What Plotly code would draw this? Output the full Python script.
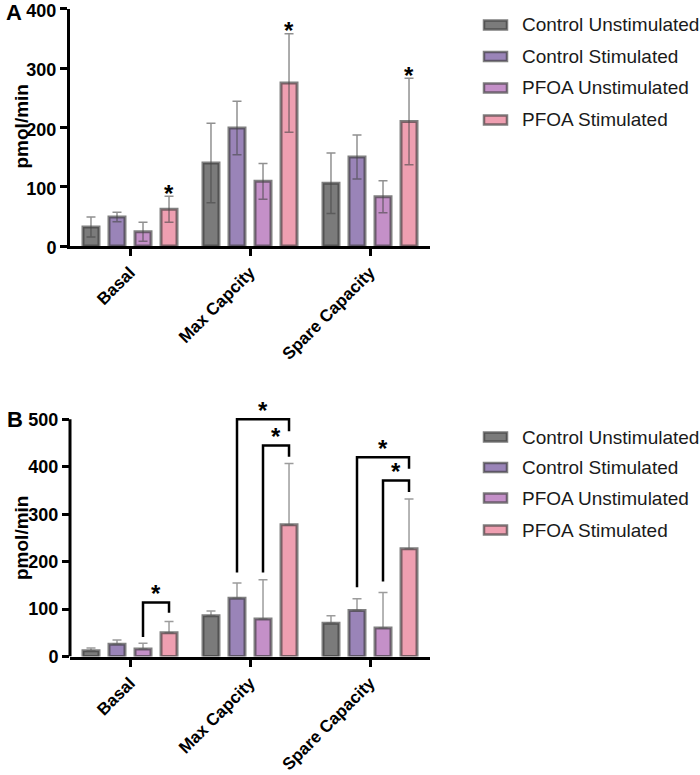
import plotly.graph_objects as go

categories = ["Basal", "Max Capcity", "Spare Capacity"]
series_names = ["Control Unstimulated", "Control Stimulated", "PFOA Unstimulated", "PFOA Stimulated"]
series_fill = ["#7b7b7b", "#9a84b8", "#c490c8", "#ef9fb1"]

# Panel A (mean, symmetric error)
ctrl_unstim_A = [32, 140, 106]
ctrl_unstim_A_err = [17, 67, 51]
ctrl_stim_A = [49, 199, 150]
ctrl_stim_A_err = [8, 45, 37]
pfoa_unstim_A = [24, 109, 83]
pfoa_unstim_A_err = [16, 30, 27]
pfoa_stim_A = [62, 275, 210]
pfoa_stim_A_err = [22, 83, 73]

# Panel B (mean, upper error only)
ctrl_unstim_B = [12, 86, 70]
ctrl_unstim_B_err = [6, 10, 16]
ctrl_stim_B = [26, 123, 97]
ctrl_stim_B_err = [9, 32, 25]
pfoa_unstim_B = [16, 79, 60]
pfoa_unstim_B_err = [12, 83, 75]
pfoa_stim_B = [50, 278, 227]
pfoa_stim_B_err = [24, 129, 105]

yticks_A = [0, 100, 200, 300, 400]
yticks_B = [0, 100, 200, 300, 400, 500]

# significance in A: stars above PFOA Stimulated in every category
stars_A = [(0, 3), (1, 3), (2, 3)]
# brackets in B: (category idx, left series, right series, top, left leg bottom, right leg bottom)
brackets_B = [
    (0, 2, 3, 114, 41, 92),
    (1, 1, 3, 500, 177, 475),
    (1, 2, 3, 445, 177, 421),
    (2, 1, 3, 420, 146, 396),
    (2, 2, 3, 371, 158, 347),
]

A_vals = [ctrl_unstim_A, ctrl_stim_A, pfoa_unstim_A, pfoa_stim_A]
A_errs = [ctrl_unstim_A_err, ctrl_stim_A_err, pfoa_unstim_A_err, pfoa_stim_A_err]
B_vals = [ctrl_unstim_B, ctrl_stim_B, pfoa_unstim_B, pfoa_stim_B]
B_errs = [ctrl_unstim_B_err, ctrl_stim_B_err, pfoa_unstim_B_err, pfoa_stim_B_err]

W, H = 700, 775
def px(x):
    return x / W
def py(y):
    return 1 - y / H

FONT = "Liberation Sans, Arial, sans-serif"
BARGAP = 0.133
BARGROUPGAP = 0.385
n_series = 4
slot = (1 - BARGAP) / n_series

def bar_x(cat, s):
    return cat + (s - (n_series - 1) / 2) * slot

border = "rgba(60,60,60,0.65)"

fig = go.Figure()
for i in range(n_series):
    fig.add_trace(go.Bar(
        x=categories, y=A_vals[i], name=series_names[i],
        marker=dict(color=series_fill[i], line=dict(color=border, width=3)),
        error_y=dict(type="data", array=A_errs[i], symmetric=True,
                     color="rgba(70,70,70,0.6)", thickness=1.5, width=4.5),
        xaxis="x", yaxis="y", showlegend=False,
    ))
for i in range(n_series):
    fig.add_trace(go.Bar(
        x=categories, y=B_vals[i], name=series_names[i],
        marker=dict(color=series_fill[i], line=dict(color=border, width=3)),
        error_y=dict(type="data", array=B_errs[i], arrayminus=[0] * len(categories),
                     symmetric=False, color="rgba(90,90,90,0.6)", thickness=1.5, width=4.5),
        xaxis="x2", yaxis="y2", showlegend=False,
    ))

xtick_font = dict(family=FONT, size=17, color="black", weight="bold")
ytick_font = dict(family=FONT, size=18, color="black", weight="bold")
xcommon = dict(showline=True, linewidth=3, linecolor="black", ticks="outside",
               ticklen=7, tickwidth=2.5, tickcolor="black", tickangle=-45,
               tickfont=xtick_font, showgrid=False, zeroline=False, automargin=False,
               ticklabeloverflow="allow", domain=[px(70), px(430)])
ycommon = dict(ticks="outside", ticklen=7, tickwidth=2.5, tickcolor="black",
               tickfont=ytick_font, showgrid=False, zeroline=False, automargin=False,
               ticklabeloverflow="allow")

fig.update_layout(
    width=W, height=H,
    margin=dict(l=0, r=0, t=0, b=0),
    paper_bgcolor="white", plot_bgcolor="white",
    barmode="group", bargap=BARGAP, bargroupgap=BARGROUPGAP,
    xaxis=dict(anchor="y", **xcommon),
    yaxis=dict(anchor="x", domain=[py(246), py(8.8)], range=[0, 400], tickvals=yticks_A,
               showline=True, linewidth=3, linecolor="black", ticklabelshift=2, **ycommon),
    xaxis2=dict(anchor="y2", **xcommon),
    yaxis2=dict(anchor="x2", domain=[py(656.5), py(400.4)], range=[0, 540], tickvals=yticks_B,
                showline=False, **ycommon),
    showlegend=False,
)

shapes = []
annotations = []

# B y-axis line drawn only up to the top tick
shapes.append(dict(type="line", xref="x2 domain", yref="y2", x0=0, x1=0,
                   y0=yticks_B[0], y1=yticks_B[-1], line=dict(color="black", width=3)))

star_font = dict(family=FONT, size=24, color="black", weight="bold")

# A stars
for cat, s in stars_A:
    annotations.append(dict(xref="x", yref="y", x=bar_x(cat, s), y=A_vals[s][cat] + A_errs[s][cat],
                            text="*", showarrow=False, font=star_font, yanchor="middle", yshift=3))

# B brackets
for cat, a, b, top, lbot, rbot in brackets_B:
    xa, xb = bar_x(cat, a), bar_x(cat, b)
    path = f"M {xa},{lbot} L {xa},{top} L {xb},{top} L {xb},{rbot}"
    shapes.append(dict(type="path", xref="x2", yref="y2", path=path,
                       line=dict(color="black", width=2.5)))
    annotations.append(dict(xref="x2", yref="y2", x=(xa + xb) / 2, y=top, text="*",
                            showarrow=False, font=star_font, yanchor="middle", yshift=9))

# y titles and panel letters
title_font = dict(family=FONT, size=19, color="black", weight="bold")
for yc in (126.5, 538):
    annotations.append(dict(xref="paper", yref="paper", x=px(21), y=py(yc), text="pmol/min",
                            textangle=-90, showarrow=False, font=title_font,
                            xanchor="center", yanchor="middle"))
letter_font = dict(family=FONT, size=22, color="black", weight="bold")
annotations.append(dict(xref="paper", yref="paper", x=px(14), y=py(13), text="A",
                        showarrow=False, font=letter_font, xanchor="center", yanchor="middle"))
annotations.append(dict(xref="paper", yref="paper", x=px(15), y=py(419), text="B",
                        showarrow=False, font=letter_font, xanchor="center", yanchor="middle"))

# custom legends
legend_font = dict(family=FONT, size=19, color="#1a1a1a")
for rows in ([25, 56.5, 88, 120], [437, 467.5, 498, 530]):
    for i, yc in enumerate(rows):
        shapes.append(dict(type="rect", xref="paper", yref="paper",
                           x0=px(484), x1=px(507), y0=py(yc - 4.5), y1=py(yc + 4.5),
                           fillcolor=series_fill[i], line=dict(color=border, width=2.5)))
        annotations.append(dict(xref="paper", yref="paper", x=px(520), y=py(yc),
                                text=series_names[i], showarrow=False, font=legend_font,
                                xanchor="left", yanchor="middle"))

fig.update_layout(shapes=shapes, annotations=annotations)
fig.write_html("out.html", config={"displayModeBar": False},
               post_script="document.body.style.margin='0';")
